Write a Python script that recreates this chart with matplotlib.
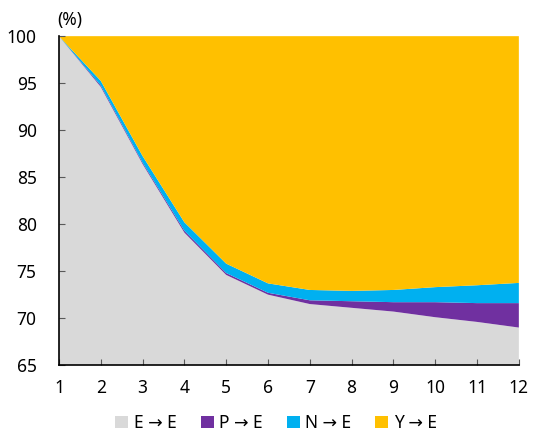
import numpy as np
import matplotlib
matplotlib.use("Agg")
import matplotlib.pyplot as plt
from matplotlib.patches import Patch

plt.rcParams['font.family'] = ['Noto Sans', 'DejaVu Sans']

months = [1, 2, 3, 4, 5, 6, 7, 8, 9, 10, 11, 12]
e_to_e = [100, 94.6, 86.4, 79.1, 74.6, 72.5, 71.5, 71.1, 70.7, 70.1, 69.6, 69.0]
p_to_e = [0, 0.15, 0.15, 0.2, 0.2, 0.2, 0.4, 0.7, 1.0, 1.6, 2.0, 2.6]
n_to_e = [0, 0.5, 0.7, 0.9, 1.0, 1.0, 1.1, 1.1, 1.3, 1.6, 1.9, 2.15]
y_to_e = [100 - a - b - c for a, b, c in zip(e_to_e, p_to_e, n_to_e)]

labels = ['E → E', 'P → E', 'N → E', 'Y → E']
colors = ['#D9D9D9', '#7030A0', '#00B0F0', '#FFC000']

fig = plt.figure(figsize=(5.36, 4.41), dpi=100)
ax = fig.add_axes([0.110, 0.172, 0.858, 0.746])

ax.stackplot(months, e_to_e, p_to_e, n_to_e, y_to_e, colors=colors, linewidth=0)

ax.set_xlim(1, 12)
ax.set_ylim(65, 100)
ax.set_xticks(months)
ax.set_yticks(np.arange(65, 101, 5))
ax.tick_params(direction='in', length=4, color='#595959', labelsize=12.5)
ax.tick_params(axis='y', pad=16)
ax.tick_params(axis='x', pad=10)
ax.spines['top'].set_visible(False)
ax.spines['right'].set_visible(False)
ax.spines['left'].set_linewidth(1.2)
ax.spines['bottom'].set_linewidth(1.2)

fig.text(0.13, 0.955, '(%)', fontsize=12.5, ha='center', va='center')

handles = [Patch(facecolor=c, edgecolor='none') for c in colors]
fig.legend(handles, labels, loc='lower center', bbox_to_anchor=(0.515, -0.015),
           ncol=4, frameon=False, fontsize=12.5, handlelength=0.75, handleheight=0.75,
           handletextpad=0.3, columnspacing=1.4)

fig.savefig('out.png', dpi=100)
